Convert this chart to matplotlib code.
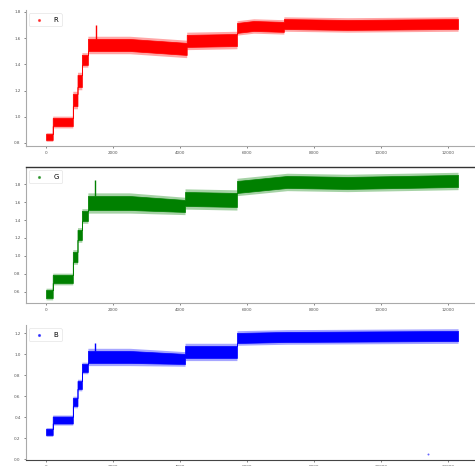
import matplotlib
matplotlib.use("Agg")
import matplotlib.pyplot as plt
import numpy as np
from matplotlib.lines import Line2D

# ---- data: knot index, band centre, band half-width ----
r_idx = [0, 200, 200, 800, 800, 940, 940, 1070, 1070, 1250, 1250, 2500, 4200, 4200, 5700, 5700, 6200, 7100, 7100, 9000, 12300]
r_mid = [0.846, 0.846, 0.960, 0.960, 1.128, 1.128, 1.273, 1.273, 1.434, 1.434, 1.548, 1.548, 1.518, 1.579, 1.586, 1.678, 1.693, 1.686, 1.708, 1.701, 1.708]
r_hw = [0.023, 0.023, 0.031, 0.031, 0.046, 0.046, 0.046, 0.046, 0.038, 0.038, 0.046, 0.046, 0.046, 0.046, 0.046, 0.038, 0.038, 0.038, 0.038, 0.038, 0.038]

g_idx = [0, 200, 200, 800, 800, 940, 940, 1070, 1070, 1250, 1250, 2500, 4150, 4150, 5700, 5700, 6000, 7200, 9000, 12300]
g_mid = [0.574, 0.574, 0.742, 0.742, 0.988, 0.988, 1.234, 1.234, 1.446, 1.446, 1.591, 1.591, 1.558, 1.636, 1.625, 1.770, 1.781, 1.826, 1.815, 1.837]
g_hw = [0.045, 0.045, 0.045, 0.045, 0.056, 0.056, 0.056, 0.056, 0.056, 0.056, 0.078, 0.078, 0.067, 0.078, 0.078, 0.067, 0.067, 0.067, 0.067, 0.067]

b_idx = [0, 200, 200, 800, 800, 940, 940, 1070, 1070, 1250, 1250, 2500, 4150, 4150, 5700, 5700, 7200, 12300]
b_mid = [0.258, 0.258, 0.372, 0.372, 0.544, 0.544, 0.706, 0.706, 0.869, 0.869, 0.974, 0.974, 0.955, 1.022, 1.022, 1.155, 1.165, 1.174]
b_hw = [0.029, 0.029, 0.033, 0.033, 0.038, 0.038, 0.038, 0.038, 0.038, 0.038, 0.057, 0.057, 0.048, 0.057, 0.057, 0.048, 0.048, 0.048]

# isolated points (spikes / outliers)
r_spike_x = [1490]
r_spike_y = [1.701]
g_spike_x = [1460]
g_spike_y = [1.848]
b_spike_x = [1460, 11400]
b_spike_y = [1.107, 0.048]

labels = ["R", "G", "B"]
colors = ["red", "green", "blue"]
x_ticks = [0, 2000, 4000, 6000, 8000, 10000, 12000]
r_ticks = [0.8, 1.0, 1.2, 1.4, 1.6, 1.8]
g_ticks = [0.6, 0.8, 1.0, 1.2, 1.4, 1.6, 1.8]
b_ticks = [0.0, 0.2, 0.4, 0.6, 0.8, 1.0, 1.2]

fig = plt.figure(figsize=(4.75, 4.66), dpi=100)
W, H = 475, 466
def rect(left_px, top_px, bottom_px, right_px=475):
    return [left_px / W, (H - bottom_px) / H, (right_px - left_px) / W, (bottom_px - top_px) / H]

axes = [fig.add_axes(rect(25.5, 10, 146)),
        fig.add_axes(rect(25.5, 167, 303)),
        fig.add_axes(rect(25.5, 325, 460))]

series = [(r_idx, r_mid, r_hw, r_spike_x, r_spike_y, r_ticks, (0.777, 1.815)),
          (g_idx, g_mid, g_hw, g_spike_x, g_spike_y, g_ticks, (0.474, 1.993)),
          (b_idx, b_mid, b_hw, b_spike_x, b_spike_y, b_ticks, (-0.0095, 1.279))]

for ax, (xi, mid, hw, sx, sy, yt, yl), lab, col in zip(axes, series, labels, colors):
    mid_a = np.array(mid)
    hw_a = np.array(hw)
    # sparse outer fringe, then dense core
    ax.fill_between(xi, mid_a - 1.45 * hw_a, mid_a + 1.45 * hw_a, color=col, alpha=0.35, linewidth=0)
    ax.fill_between(xi, mid_a - hw_a, mid_a + hw_a, color=col, linewidth=0.5, edgecolor=col)
    # spikes: vertical streak from band top up to the spike value
    for x0, y0 in zip(sx, sy):
        top = np.interp(x0, xi, mid_a + hw_a)
        bot = np.interp(x0, xi, mid_a - hw_a)
        if y0 > top:
            ax.vlines(x0, top, y0, color=col, linewidth=1.0)
        elif y0 < bot - 0.1:
            ax.scatter([x0], [y0], s=2, color=col, alpha=0.6, linewidths=0)
    ax.set_xlim(-612, 12806)
    ax.set_ylim(*yl)
    ax.set_xticks(x_ticks)
    ax.set_yticks(yt)
    ax.tick_params(labelsize=3, length=1.5, width=0.5, colors="#555555", pad=2)
    for s in ["top", "right"]:
        ax.spines[s].set_visible(False)
    for s in ["left", "bottom"]:
        ax.spines[s].set_color("#aaaaaa")
        ax.spines[s].set_linewidth(0.8)
    handle = Line2D([], [], marker=".", linestyle="", color=col, markersize=2.5, alpha=0.6)
    leg = ax.legend([handle], [lab], loc="upper left", fontsize=5, frameon=True,
                    borderpad=0.5, handletextpad=1.0, markerscale=1.0,
                    bbox_to_anchor=(0.0, 1.0))
    leg.get_frame().set_edgecolor("#dddddd")
    leg.get_frame().set_linewidth(0.5)

axes[1].spines["top"].set_visible(True)
axes[1].spines["top"].set_color("#333333")
axes[1].spines["top"].set_linewidth(1.0)
axes[2].spines["bottom"].set_color("#444444")

fig.savefig("out.png", dpi=100)
